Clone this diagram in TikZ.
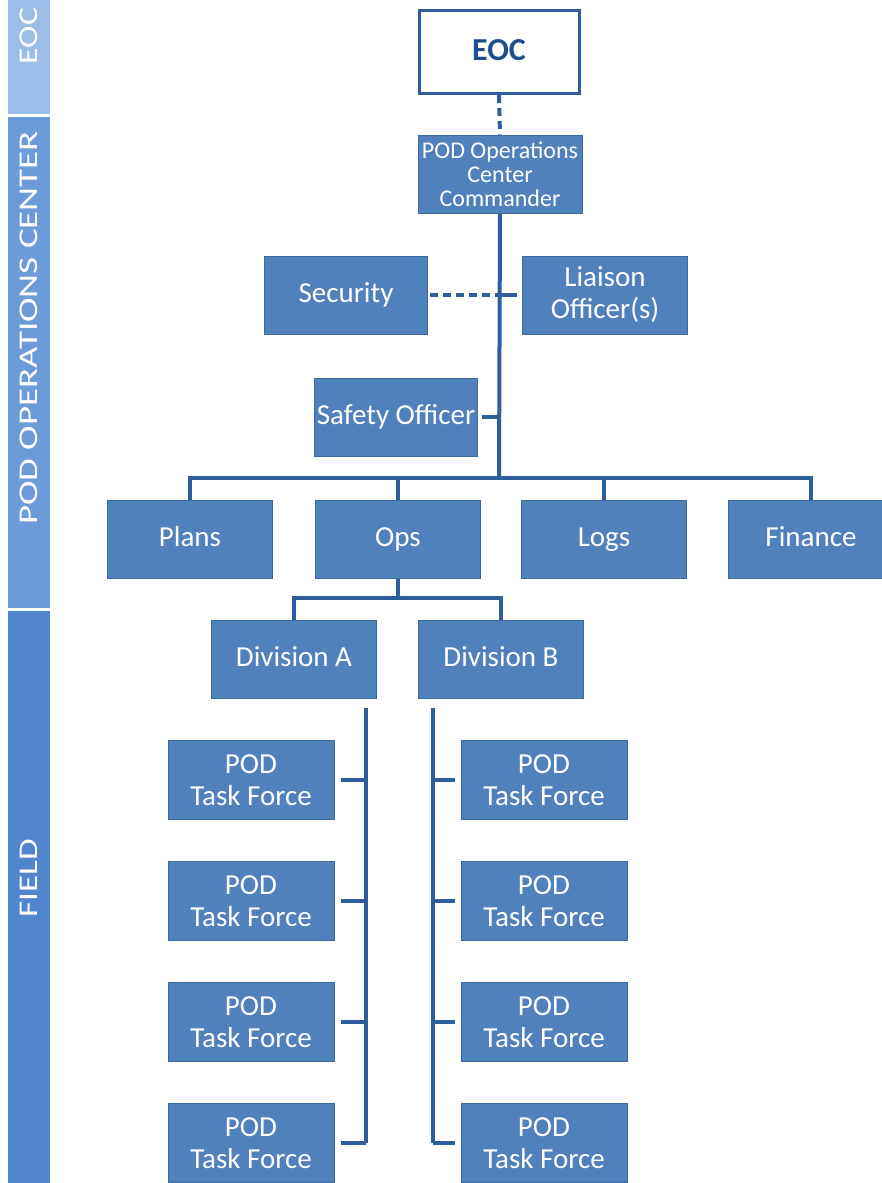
\documentclass[tikz,border=0pt]{standalone}
\usepackage{fontspec}
\setmainfont{Carlito}
\usepackage{graphicx}
\definecolor{boxblue}{HTML}{4F81BD}
\definecolor{boxborder}{HTML}{3D6A9E}
\definecolor{linecol}{HTML}{2F5E9C}
\definecolor{eoctext}{HTML}{1F4E8C}
\definecolor{bandA}{HTML}{9CBDE7}
\definecolor{bandB}{HTML}{6B9CDA}
\definecolor{bandC}{HTML}{4F86CE}
\begin{document}
\begin{tikzpicture}[x=1pt,y=-1pt,
  orgbox/.style={fill=boxblue,draw=boxborder,line width=1pt,minimum width=165pt,minimum height=78pt,
    text=white,font=\fontsize{29}{32}\selectfont,align=center,inner sep=0pt},
  single/.style={text height=20pt,text depth=5pt},
  conn/.style={draw=linecol,line width=4pt},
  dconn/.style={draw=linecol,line width=4pt,dash pattern=on 8pt off 5pt},
  bandtext/.style={text=white,rotate=90,font=\fontsize{27}{30}\selectfont,inner sep=0pt}]
\clip (0,0) rectangle (882,1183);
\fill[white] (0,0) rectangle (882,1183);
% side bands
\fill[bandA] (8,0) rectangle (50,114);
\fill[bandB] (8,117) rectangle (50,608);
\fill[bandC] (8,611) rectangle (50,1183);
\node[bandtext] (bEOC) at (29,36) {\scalebox{1.25}[1]{EOC}};
\node[bandtext] (bPOD) at (29,328) {\scalebox{1.37}[1]{POD OPERATIONS CENTER}};
\node[bandtext] (bFLD) at (29,878) {\scalebox{1.3}[1]{FIELD}};
% boxes
\node[fill=white,draw=linecol,line width=3pt,minimum width=160pt,minimum height=83pt,inner sep=0pt,
  text=eoctext,font=\fontsize{32}{34}\selectfont\bfseries,text height=21pt,text depth=5pt] (eoc) at (499,52) {EOC};
\node[orgbox,minimum width=164pt,font=\fontsize{24}{24}\selectfont] (cmd) at (500,174) {POD Operations\\Center\\Commander};
\node[orgbox,single,minimum width=163pt] (sec) at (346,295) {Security};
\node[orgbox] (lia) at (605,295) {Liaison\\Officer(s)};
\node[orgbox,single,minimum width=163pt] (saf) at (396,417) {Safety Officer};
\node[orgbox,single] (plans) at (190,539) {Plans};
\node[orgbox,single] (ops) at (398,539) {Ops};
\node[orgbox,single] (logs) at (604,539) {Logs};
\node[orgbox,single] (fin) at (811,539) {Finance};
\node[orgbox,single] (divA) at (294,659) {Division A};
\node[orgbox,single] (divB) at (501,659) {Division B};
\foreach \i/\y in {1/780,2/901,3/1022,4/1143}{
  \node[orgbox,minimum width=166pt,minimum height=79pt] (tfl\i) at (251,\y) {POD\\Task Force};
  \node[orgbox,minimum width=166pt,minimum height=79pt] (tfr\i) at (544,\y) {POD\\Task Force};
}
% coordinates
\coordinate (bus) at (499,478);
\coordinate (sj) at (499,295);
\coordinate (fj) at (499,417);
\coordinate (busL) at (190,478);
\coordinate (busR) at (811,478);
\coordinate (opsj) at (398,598);
\coordinate (dbusL) at (294,598);
\coordinate (dbusR) at (501,598);
\coordinate (vAt) at (366,708);
\coordinate (vAb) at (366,1143);
\coordinate (vBt) at (433,708);
\coordinate (vBb) at (433,1143);
% connectors
\draw[dconn] (eoc.south) -- (cmd.north);
\draw[conn] (cmd.south) -- (bus);
\draw[conn,line cap=rect] (busL) -- (busR);
\draw[conn] (busL) -- (plans.north);
\draw[conn] (ops.north|-bus) -- (ops.north);
\draw[conn] (logs.north|-bus) -- (logs.north);
\draw[conn] (busR) -- (fin.north);
\draw[dconn] ([xshift=2pt]sec.east) -- (sj);
\draw[conn] (sj) -- ([xshift=-5pt]lia.west);
\draw[conn] ([xshift=4pt]saf.east) -- (fj);
\draw[conn] (ops.south) -- (opsj);
\draw[conn,line cap=rect] (dbusL) -- (dbusR);
\draw[conn] (dbusL) -- (divA.north);
\draw[conn] (dbusR) -- (divB.north);
\draw[conn] (vAt) -- (vAb);
\draw[conn] (vBt) -- (vBb);
\foreach \i in {1,2,3,4}{
  \draw[conn] ([xshift=6pt]tfl\i.east) -- (vAt|-tfl\i.east);
  \draw[conn] (vBt|-tfr\i.west) -- ([xshift=-6pt]tfr\i.west);
}
\end{tikzpicture}
\end{document}
